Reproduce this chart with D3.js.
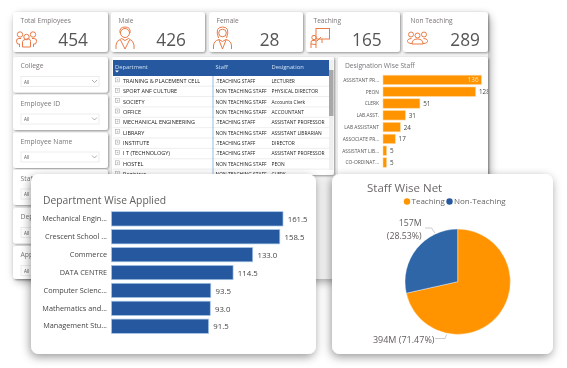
<!DOCTYPE html>
<html><head><meta charset="utf-8">
<style>html,body{margin:0;padding:0;background:#fff;overflow:hidden}svg{display:block;filter:blur(.4px)}text{font-family:"Open Sans","Noto Sans",sans-serif}</style>
<script src="https://cdn.jsdelivr.net/npm/d3@7/dist/d3.min.js"></script></head><body>
<script>
const kpiLabels=["Total Employees","Male","Female","Teaching","Non Teaching"];
const kpiValues=[454,426,28,165,289];
const slicerLabels=["College","Employee ID","Employee Name","Staf","Dep","App"];
const tableHeaders=["Department","Staff","Designation"];
const tableDepartments=["TRAINING & PLACEMENT CELL","SPORT ANF CULTURE","SOCIETY","OFFICE","MECHANICAL ENGINEERING","LIBRARY","INSTITUTE","I T (TECHNOLOGY)","HOSTEL","Registrar"];
const tableStaff=[".TEACHING STAFF","NON TEACHING STAFF","NON TEACHING STAFF","NON TEACHING STAFF",".TEACHING STAFF","NON TEACHING STAFF",".TEACHING STAFF",".TEACHING STAFF","NON TEACHING STAFF","NON TEACHING STAFF"];
const tableDesignations=["LECTURER","PHYSICAL DIRECTOR","Accounts Clerk","ACCOUNTANT","ASSISTANT PROFESSOR","ASSISTANT LIBRARIAN","DIRECTOR","ASSISTANT PROFESSOR","PEON","CLERK"];
const desigNames=["ASSISTANT PR...","PEON","CLERK","LAB.ASST.","LAB ASSISTANT","ASSOCIATE PR...","ASSISTANT LIB...","CO-ORDINAT..."];
const desigValues=[136,128,51,31,24,17,5,5];
const deptNames=["Mechanical Engin...","Crescent School ...","Commerce","DATA CENTRE","Computer Scienc...","Mathematics and...","Management Stu..."];
const deptValues=[161.5,158.5,133.0,114.5,93.5,93.0,91.5];
const pieNames=["Teaching","Non-Teaching"];
const pieValues=[394,157];
const pieLabels=["394M (71.47%)",["157M","(28.53%)"]];

const ORANGE="#ff9300",BLUE="#25589f",GREY="#605e5c",ICON="#ea7a45";
const svg=d3.select("body").append("svg").attr("width",567).attr("height",368);
const defs=svg.append("defs");
function shadow(id,dx,dy,sd,op){defs.append("filter").attr("id",id).attr("x","-20%").attr("y","-20%").attr("width","140%").attr("height","140%")
 .append("feDropShadow").attr("dx",dx).attr("dy",dy).attr("stdDeviation",sd).attr("flood-color","#000").attr("flood-opacity",op);}
shadow("sBig",2,3,4,.35);shadow("sSmall",1,1,1,.4);shadow("sFloat",-1,3,5,.4);
defs.append("clipPath").attr("id","tbl").append("rect").attr("x",113).attr("y",60).attr("width",221).attr("height",114.5);
defs.append("clipPath").attr("id","desClip").append("rect").attr("x",338).attr("y",57).attr("width",150).attr("height",125);
function card(x,y,w,h,r,f){return svg.append("rect").attr("x",x).attr("y",y).attr("width",w).attr("height",h).attr("rx",r).attr("fill","#fff").attr("filter",`url(#${f})`);}
function txt(g,x,y,s,size,fill,anchor){return g.append("text").attr("x",x).attr("y",y).attr("font-size",size).attr("fill",fill||GREY).attr("text-anchor",anchor||"start").text(s);}

// back panel
svg.append("rect").attr("x",13).attr("y",12).attr("width",475).attr("height",267).attr("rx",7).attr("fill","#f1f1f1").attr("filter","url(#sBig)");

// KPI cards
const kpiX=[13,111,209,306,403],kpiW=[95,94,94,94,85];
kpiLabels.forEach((l,i)=>{
  card(kpiX[i],12,kpiW[i],40,3,"sSmall");
  const g=svg.append("g");
  txt(g,kpiX[i]+7.5,22.700,l,6.600,"#7a7876");
  txt(g,[88,186,279.500,381.700,480][i],45.700,kpiValues[i],17.300,"#555","end");
});
const ic=svg.append("g").attr("fill","none").attr("stroke",ICON).attr("stroke-width",1);
// people icon
[[20,34.500],[33,34.500],[26.500,37]].forEach(([x,y])=>{ic.append("circle").attr("cx",x).attr("cy",y).attr("r",2.700);});
ic.append("path").attr("d","M22.500 47v-5.500q0-1.500 4-2.500t4 2.500v5.500zM21 38.500h-2q-3 0-2.500 3l1 2.500h2v3M32 38.500h2q3 0 2.500 3l-1 2.500h-2v3");
// male
ic.append("circle").attr("cx",125).attr("cy",33).attr("r",4.500);
ic.append("path").attr("d","M116 49v-4q0-4 5.500-6.500l3.500 2 3.500-2q5.500 2.500 5.500 6.500v4M120.500 40l4.500 9 4.500-9M120 33q-1-6 5-6t5 6");
// female
ic.append("circle").attr("cx",222.500).attr("cy",33).attr("r",3.800);
ic.append("path").attr("d","M213.500 49v-3q0-5 5.500-6.500l3.500 2 3.500-2q5.500 1.500 5.500 6.500v3M219 40l3.500 9 3.500-9M218.500 38q-4-11 4-11t4 11");
// teaching
ic.append("rect").attr("x",316).attr("y",28.500).attr("width",13.500).attr("height",10.500);
ic.append("circle").attr("cx",314).attr("cy",37.500).attr("r",2.200);
ic.append("path").attr("d","M311 48v-6q0-2 3-1.500l3 .5 4-4M316 48v-7M311 44l5 .5M322 39v4");
// non teaching
[[411,34.500],[424,34.500],[417.500,35.500]].forEach(([x,y])=>ic.append("circle").attr("cx",x).attr("cy",y).attr("r",2.500));
ic.append("path").attr("d","M412 43.500q-5 0-4.500-3 .5-2 4-2M423 43.500q5 0 4.500-3-.5-2-4-2M412 44q0-5 5.500-5t5.500 5z");

// slicers
const slicerY=[57,94.500,132.500,169.500,208,246];
slicerLabels.forEach((l,i)=>{
  const y=slicerY[i];
  card(13,y,95,i==5?33:35.500,3,"sSmall");
  const g=svg.append("g");
  txt(g,20.500,y+11.300,l,6.800,"#7a7876");
  g.append("rect").attr("x",21).attr("y",y+19.500).attr("width",78).attr("height",10).attr("fill","#fff").attr("stroke","#e4e4e4").attr("stroke-width",.7);
  txt(g,24,y+26.500,"All",4.600,"#555");
  g.append("path").attr("d",`M92 ${y+23}l2.500 2.500 2.500-2.500`).attr("fill","none").attr("stroke","#777").attr("stroke-width",.6);
});

// table
card(112,57,222,118,2,"sSmall");
const t=svg.append("g").attr("clip-path","url(#tbl)");
t.append("rect").attr("x",113).attr("y",60).attr("width",216).attr("height",16).attr("fill",BLUE);
const colX=[115,215.500,271.500];
tableHeaders.forEach((h,i)=>txt(t,colX[i],68.500,h,5.800,"#cfe0f3"));
t.append("path").attr("d","M115 70.500h4l-2 2z").attr("fill","#fff");
const rowY=d3.scaleBand().domain(d3.range(tableDepartments.length)).range([75.800,179.500]);
tableDepartments.forEach((d,i)=>{
  const y=rowY(i),m=y+rowY.bandwidth()/2+1.900;
  t.append("line").attr("x1",113).attr("x2",329).attr("y1",y+rowY.bandwidth()).attr("y2",y+rowY.bandwidth()).attr("stroke","#e6e6e6").attr("stroke-width",.7);
  t.append("rect").attr("x",115.500).attr("y",m-5).attr("width",4).attr("height",4).attr("fill","none").attr("stroke","#999").attr("stroke-width",.5);
  t.append("path").attr("d",`M116.500 ${m-3}h2M117.500 ${m-4}v2`).attr("stroke","#999").attr("stroke-width",.4);
  txt(t,123,m,d,5.500,"#222");
  txt(t,colX[1],m,tableStaff[i],4.900,"#222");
  txt(t,colX[2],m,tableDesignations[i],4.900,"#222");
});
t.append("line").attr("x1",213).attr("x2",213).attr("y1",76).attr("y2",175).attr("stroke","#6a9fd8").attr("stroke-width",.7);
svg.append("rect").attr("x",329).attr("y",60).attr("width",4.500).attr("height",110).attr("fill","#efefef");
svg.append("rect").attr("x",329).attr("y",70).attr("width",4.500).attr("height",46).attr("fill","#a8a8a8");

// designation chart
card(338,57,150,125,2,"sSmall");
const desig=svg.append("g").attr("clip-path","url(#desClip)");
txt(desig,345,68.300,"Designation Wise Staff",6.700,"#77757a");
const dx=d3.scaleLinear().domain([0,136]).range([383,481.500]);
const dy=d3.scaleBand().domain(desigNames).range([74,168.400]).paddingInner(.2).paddingOuter(.1);
desig.selectAll("rect").data(desigValues).join("rect").attr("x",dx(0)).attr("y",(d,i)=>dy(desigNames[i])).attr("width",d=>dx(d)-dx(0)).attr("height",dy.bandwidth()).attr("fill",ORANGE).attr("stroke","#ffd9a0").attr("stroke-width",.6);
desigNames.forEach((n,i)=>{
  const m=dy(n)+dy.bandwidth()/2+1.800;
  txt(desig,379,m,n,4.900,"#555","end");
  const v=desigValues[i];
  if(i==0) txt(desig,dx(v)-3,m+.500,v,6.300,"#ffe5bd","end");
  else txt(desig,dx(v)+3.300,m+.700,v,6.300,"#444");
});

// department card
card(31,174,285,180,8,"sFloat");
const dep=svg.append("g");
txt(dep,43,204,"Department Wise Applied",10.300,GREY);
const ax=d3.scaleLinear().domain([0,161.500]).range([111.500,283]);
const ay=d3.scaleBand().domain(deptNames).range([209.900,335.200]).paddingInner(.2).paddingOuter(.1);
dep.selectAll("rect").data(deptValues).join("rect").attr("x",ax(0)).attr("y",(d,i)=>ay(deptNames[i])).attr("width",d=>ax(d)-ax(0)).attr("height",ay.bandwidth()).attr("fill",BLUE).attr("stroke","#a9c8ea").attr("stroke-width",.7);
deptNames.forEach((n,i)=>{
  const m=ay(n)+ay.bandwidth()/2+2.200;
  txt(dep,107,m,n,7.300,"#444","end");
  txt(dep,ax(deptValues[i])+4.700,m+1,deptValues[i].toFixed(1),7.800,"#444");
});

// pie card
card(332,174,221,180,8,"sFloat");
const p=svg.append("g");
txt(p,367,192,"Staff Wise Net",11.500,"#6b6967");
const pieColor=d3.scaleOrdinal().domain(pieNames).range([ORANGE,BLUE]);
[[407,pieNames[0]],[449.500,pieNames[1]]].forEach(([x,n])=>{
  p.append("circle").attr("cx",x).attr("cy",201.500).attr("r",3.200).attr("fill",pieColor(n));
  txt(p,x+4.500,204.200,n,8,"#666");
});
const arcs=d3.pie().sort(null)(pieValues);
const arc=d3.arc().innerRadius(0).outerRadius(52.700);
const pg=p.append("g").attr("transform","translate(457.700,281.700)");
pg.selectAll("path").data(arcs).join("path").attr("d",arc).attr("fill",(d,i)=>i==0?ORANGE:"#2f66a8").attr("stroke","#fff").attr("stroke-width",.4);
p.append("path").attr("d","M425 228h6.500l3.500 5M435 338.500h10l1.700-4").attr("fill","none").attr("stroke","#aaa").attr("stroke-width",.6);
txt(p,434.500,343,pieLabels[0],9,GREY,"end");
txt(p,421.700,225.500,pieLabels[1][0],8.800,GREY,"end");
txt(p,421.700,239,pieLabels[1][1],8.800,GREY,"end");
</script></body></html>
